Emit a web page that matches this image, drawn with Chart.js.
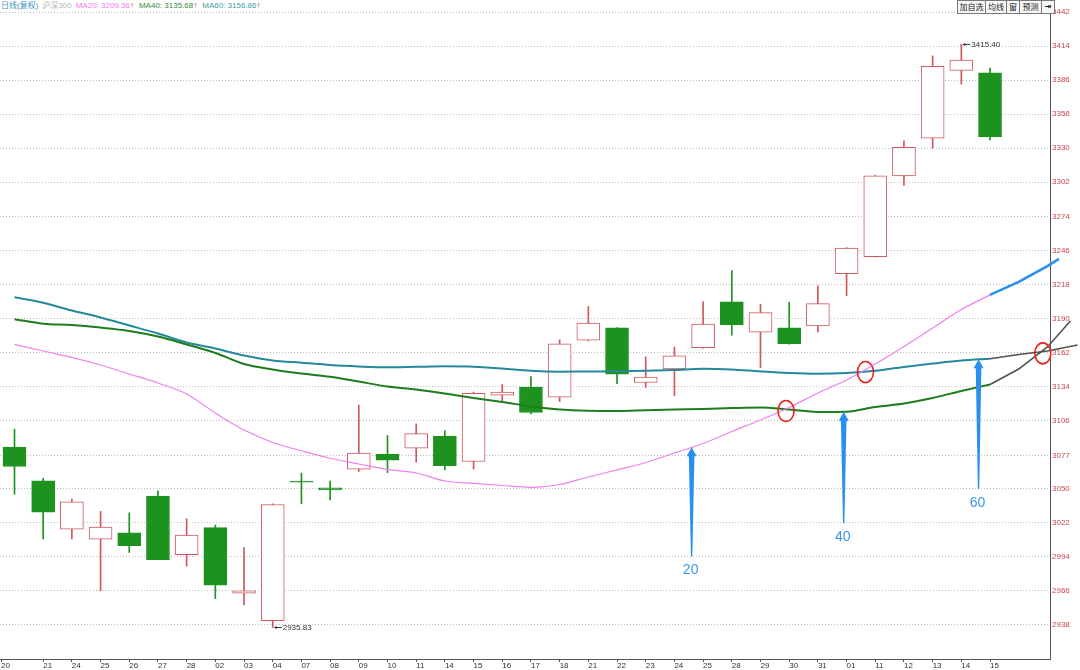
<!DOCTYPE html>
<html>
<head>
<meta charset="utf-8">
<title>沪深300 日线</title>
<script src="https://cdn.jsdelivr.net/npm/chart.js@4.4.0/dist/chart.umd.min.js"></script>
<style>
  body { margin: 0; background: #fff; }
  #wrap { position: relative; width: 1080px; height: 670px; overflow: hidden; }
  #header {
    position: absolute; left: 1px; top: 0; height: 11px; line-height: 11px;
    font-size: 8px; font-family: "Liberation Sans", "Noto Sans CJK SC", sans-serif;
    white-space: nowrap; background: #fff; padding-right: 2px;
  }
  #header span { margin-right: 4px; }
  #header .up { color: #e03a3a; margin-left: -4px; margin-right: 5px; }
  #tools { position: absolute; left: 958px; top: 0; display: flex; }
  #tools span {
    display: inline-block; height: 12px; line-height: 12px; text-align: center;
    border: 1px solid #777; margin-left: -1px; background: #f7f7f7; color: #222;
    font-size: 8px; font-family: "Noto Sans CJK SC", sans-serif;
  }
</style>
</head>
<body>
<div id="wrap">
  <canvas id="kChart" width="1080" height="670"></canvas>
  <div id="header"></div>
  <div id="tools">
    <span style="width:27px">加自选</span><span style="width:20px">均线</span><span style="width:12px">窗</span><span style="width:21px">预测</span><span style="width:12px;font-weight:bold;font-family:'DejaVu Sans'">⇥</span>
  </div>
</div>
<script>
////////// Data //////////
const dates = ["20", "21", "24", "25", "26", "27", "28", "02", "03", "04", "07", "08", "09", "10", "11", "14", "15", "16", "17", "18", "21", "22", "23", "24", "25", "28", "29", "30", "31", "01", "11", "12", "13", "14", "15"];

const opens = [3084.1, 3056.4, 3016.7, 3008.5, 3013.7, 3043.9, 2995.8, 3018.0, 2964.1, 2941.5, 3055.8, 3050.7, 3066.0, 3078.4, 3083.3, 3093.2, 3072.3, 3126.9, 3133.5, 3125.3, 3172.1, 3182.2, 3137.3, 3148.5, 3166.0, 3203.6, 3178.7, 3182.2, 3183.9, 3226.9, 3240.9, 3307.2, 3338.2, 3393.9, 3391.9];
const closes = [3068.2, 3030.7, 3039.2, 3018.3, 3003.2, 2991.5, 3011.8, 2970.6, 2966.0, 3037.0, 3055.4, 3049.0, 3079.2, 3073.4, 3095.3, 3069.0, 3128.5, 3129.4, 3112.6, 3169.1, 3186.1, 3144.2, 3141.7, 3159.2, 3185.3, 3184.9, 3194.8, 3169.3, 3202.2, 3247.8, 3307.2, 3330.8, 3397.4, 3402.4, 3339.3];
const highs = [3098.9, 3058.6, 3041.4, 3031.2, 3030.1, 3048.2, 3025.2, 3020.0, 3001.6, 3037.5, 3062.8, 3056.2, 3118.7, 3093.7, 3103.3, 3097.8, 3129.4, 3135.6, 3142.2, 3172.4, 3199.8, 3182.5, 3158.4, 3166.4, 3203.9, 3229.4, 3201.7, 3203.4, 3216.8, 3248.2, 3307.6, 3336.0, 3405.9, 3415.40, 3396.0];
const lows = [3045.5, 3008.7, 3008.7, 2966.0, 2997.5, 2991.5, 2986.3, 2959.6, 2954.4, 2935.83, 3037.5, 3040.8, 3064.1, 3063.2, 3071.8, 3065.5, 3066.0, 3120.8, 3111.5, 3121.6, 3171.5, 3136.4, 3133.2, 3126.3, 3165.5, 3176.2, 3149.6, 3168.8, 3178.9, 3208.8, 3240.5, 3299.3, 3330.0, 3382.7, 3336.8];

const ma20 = [3168.7, 3163.2, 3158.0, 3151.7, 3144.3, 3136.9, 3127.9, 3112.2, 3098.2, 3088.0, 3081.2, 3075.0, 3070.3, 3065.8, 3062.9, 3056.3, 3054.3, 3052.6, 3051.1, 3053.4, 3059.6, 3065.4, 3071.5, 3079.3, 3087.1, 3097.0, 3106.5, 3116.8, 3128.7, 3139.4, 3152.5, 3166.9, 3182.1, 3197.3, 3209.36];
const ma40 = [3189.3, 3185.7, 3184.6, 3182.5, 3179.7, 3175.1, 3168.6, 3161.6, 3152.5, 3148.0, 3144.7, 3142.1, 3138.1, 3134.0, 3131.6, 3128.3, 3124.6, 3121.3, 3117.6, 3115.1, 3114.1, 3113.9, 3114.5, 3115.1, 3115.5, 3116.3, 3116.8, 3115.1, 3113.1, 3113.3, 3117.2, 3120.0, 3124.6, 3130.3, 3135.68];
const ma60 = [3207.4, 3202.9, 3196.5, 3190.8, 3184.2, 3177.6, 3170.2, 3165.3, 3159.5, 3155.4, 3153.6, 3151.7, 3150.5, 3149.8, 3150.2, 3150.6, 3150.3, 3148.8, 3146.9, 3146.2, 3146.4, 3146.5, 3146.9, 3147.6, 3148.6, 3148.0, 3146.4, 3145.1, 3144.5, 3145.1, 3146.9, 3150.1, 3152.9, 3155.4, 3156.86];

// forecast tails (预测)
const proj20X = [34, 35, 36, 36.4];
const proj20 = [3209.36, 3220.0, 3233.1, 3238.9];
const proj40X = [34, 35, 36, 36.8];
const proj40 = [3135.68, 3148.4, 3166.5, 3187.9];
const proj60X = [34, 35, 36, 37.05];
const proj60 = [3156.86, 3160.3, 3163.2, 3168.2];

const priceTicks = [2938, 2966, 2994, 3022, 3050, 3077, 3106, 3134, 3162, 3190, 3218, 3246, 3274, 3302, 3330, 3358, 3386, 3414, 3442];

// annotations
const arrowLabels = ["20", "40", "60"];
const arrowX = [23.6, 28.9, 33.6];
const arrowTip = [3084.0, 3113.3, 3156.4];
const arrowBase = [2994.1, 3021.5, 3049.7];
const circleX = [26.89, 29.66, 35.84];
const circleY = [3113.9, 3145.9, 3161.3];
const highIdx = 33;
const lowIdx = 9;

////////// Header //////////
const last = ma20.length - 1;
document.getElementById("header").innerHTML = `
  <span style="color:#3a96bd">日线(复权)</span><span style="color:#b4b4b4">沪深300</span><span style="color:#f07cf0">MA20: ${ma20[last].toFixed(2)}</span><span class="up">↑</span><span style="color:#3a8a3a">MA40: ${ma40[last].toFixed(2)}</span><span class="up">↑</span><span style="color:#4a9aa8">MA60: ${ma60[last].toFixed(2)}</span><span class="up">↑</span>`;

////////// Chart //////////
const RED = "#d0575b";
const GREEN = "#1e921e";
const isUp = (i) => closes[i] >= opens[i];

const toPoints = (xs, ys) => ys.map((y, i) => ({ x: xs ? xs[i] : i, y: y }));

const annotations = {
  id: "annotations",
  afterDatasetsDraw(chart) {
    const { ctx, scales: { x, y } } = chart;
    ctx.save();

    // red circles at crossings
    ctx.strokeStyle = "#e8221c";
    ctx.lineWidth = 1.6;
    circleX.forEach((cx, i) => {
      ctx.beginPath();
      ctx.ellipse(x.getPixelForValue(cx), y.getPixelForValue(circleY[i]), 8, 10.5, 0, 0, Math.PI * 2);
      ctx.stroke();
    });

    // blue arrows
    ctx.fillStyle = "#2a90f0";
    arrowLabels.forEach((label, i) => {
      const px = x.getPixelForValue(arrowX[i]);
      const tip = y.getPixelForValue(arrowTip[i]);
      const base = y.getPixelForValue(arrowBase[i]);
      ctx.beginPath();
      ctx.moveTo(px - 0.7, base);
      ctx.lineTo(px + 0.7, base);
      ctx.lineTo(px + 2.8, tip + 9);
      ctx.lineTo(px + 5, tip + 9);
      ctx.lineTo(px, tip);
      ctx.lineTo(px - 5, tip + 9);
      ctx.lineTo(px - 2.8, tip + 9);
      ctx.closePath();
      ctx.fill();
    });
    ctx.fillStyle = "#3a96ea";
    ctx.font = "14px 'Liberation Sans', Arial, sans-serif";
    ctx.textAlign = "center";
    ctx.textBaseline = "middle";
    arrowLabels.forEach((label, i) => {
      ctx.fillText(label, x.getPixelForValue(arrowX[i]) - 1, y.getPixelForValue(arrowBase[i]) + 14);
    });

    // highest / lowest price markers
    ctx.fillStyle = "#333";
    ctx.strokeStyle = "#333";
    ctx.lineWidth = 1;
    ctx.font = "8px 'Liberation Sans', Arial, sans-serif";
    ctx.textAlign = "left";
    [[highIdx, highs[highIdx]], [lowIdx, lows[lowIdx]]].forEach(([idx, val]) => {
      const px = x.getPixelForValue(idx) + 1;
      const py = y.getPixelForValue(val);
      ctx.beginPath();
      ctx.moveTo(px, py);
      ctx.lineTo(px + 3, py - 1.5);
      ctx.lineTo(px + 3, py + 1.5);
      ctx.closePath();
      ctx.fill();
      ctx.beginPath();
      ctx.moveTo(px + 2, py);
      ctx.lineTo(px + 8, py);
      ctx.stroke();
      ctx.fillText(val.toFixed(2), px + 9, py);
    });
    ctx.restore();
  },
};

const ctx = document.getElementById("kChart");
const kChart = new Chart(ctx, {
  type: "bar",
  data: {
    datasets: [
      {
        type: "line",
        label: "MA20",
        data: toPoints(null, ma20),
        borderColor: "#f07ff0",
        borderWidth: 1.2,
        pointRadius: 0,
        cubicInterpolationMode: "monotone",
        order: 0,
      },
      {
        type: "line",
        label: "MA40",
        data: toPoints(null, ma40),
        borderColor: "#1d7d1d",
        borderWidth: 2,
        pointRadius: 0,
        cubicInterpolationMode: "monotone",
        order: 0,
      },
      {
        type: "line",
        label: "MA60",
        data: toPoints(null, ma60),
        borderColor: "#24899a",
        borderWidth: 2,
        pointRadius: 0,
        cubicInterpolationMode: "monotone",
        order: 0,
      },
      {
        type: "line",
        label: "MA20 预测",
        data: toPoints(proj20X, proj20),
        borderColor: "#2a8ff0",
        borderWidth: 2.6,
        pointRadius: 0,
        clip: false,
        order: 0,
      },
      {
        type: "line",
        label: "MA40 预测",
        data: toPoints(proj40X, proj40),
        borderColor: "#505050",
        borderWidth: 1.6,
        pointRadius: 0,
        clip: false,
        order: 0,
      },
      {
        type: "line",
        label: "MA60 预测",
        data: toPoints(proj60X, proj60),
        borderColor: "#505050",
        borderWidth: 1.6,
        pointRadius: 0,
        clip: false,
        order: 0,
      },
      {
        label: "body",
        data: opens.map((o, i) => ({ x: i, y: [o, closes[i]] })),
        backgroundColor: (c) => (isUp(c.dataIndex) ? "#ffffff" : GREEN),
        borderColor: (c) => (isUp(c.dataIndex) ? RED : GREEN),
        borderWidth: 1,
        borderSkipped: false,
        minBarLength: 1,
        grouped: false,
        barPercentage: 1,
        categoryPercentage: 1,
        maxBarThickness: 23,
        order: 1,
      },
      {
        label: "wick",
        data: lows.map((l, i) => ({ x: i, y: [l, highs[i]] })),
        backgroundColor: (c) => (isUp(c.dataIndex) ? RED : GREEN),
        borderWidth: 0,
        grouped: false,
        barPercentage: 1,
        categoryPercentage: 1,
        maxBarThickness: 1,
        order: 2,
      },
    ],
  },
  options: {
    responsive: false,
    animation: false,
    layout: { padding: 0 },
    scales: {
      x: {
        type: "linear",
        min: -0.505,
        max: 36.09,
        offset: false,
        afterBuildTicks: (scale) => {
          scale.ticks = dates.map((d, i) => ({ value: i === 0 ? -0.47 : i }));
        },
        afterFit: (scale) => {
          scale.height = 11;
          scale.paddingLeft = 0;
          scale.paddingRight = 0;
        },
        ticks: {
          autoSkip: false,
          maxRotation: 0,
          minRotation: 0,
          align: "start",
          padding: -1,
          color: "#333",
          font: { size: 8, family: "'Liberation Sans', Arial, sans-serif" },
          callback: (value, index) => dates[index],
        },
        grid: {
          offset: false,
          drawOnChartArea: false,
          drawTicks: true,
          tickLength: 3,
          tickColor: "#555",
        },
        border: { display: true, color: "#555", width: 1 },
      },
      y: {
        position: "right",
        min: 2909.9,
        max: 3451.9,
        afterBuildTicks: (scale) => {
          scale.ticks = priceTicks.map((v) => ({ value: v }));
        },
        afterFit: (scale) => {
          scale.width = 30;
          scale.paddingTop = 0;
          scale.paddingBottom = 0;
        },
        ticks: {
          padding: 2,
          color: "#c8484c",
          font: { size: 8, family: "'Liberation Sans', Arial, sans-serif" },
          callback: (value) => String(value),
        },
        grid: {
          color: "#bdbdbd",
          lineWidth: 1,
          drawTicks: false,
        },
        border: { display: true, color: "#555", width: 1, dash: [1, 2] },
      },
    },
    plugins: {
      legend: { display: false },
      tooltip: { enabled: false },
    },
  },
  plugins: [annotations],
});
</script>
</body>
</html>
